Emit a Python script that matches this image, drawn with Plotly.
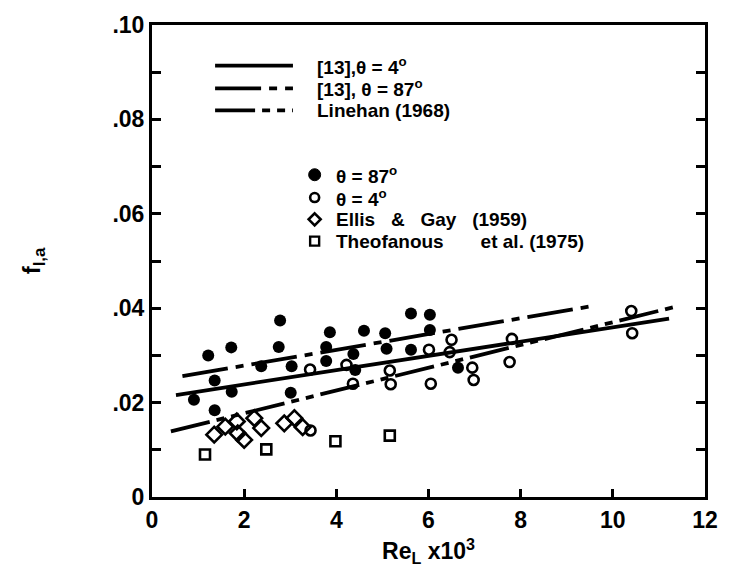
import plotly.graph_objects as go

# ---- data ----
filled_x = [0.91, 1.22, 1.36, 1.36, 1.72, 1.73, 2.37, 2.75, 2.78, 3.01, 3.03, 3.78, 3.78, 3.86,
            4.37, 4.41, 4.60, 5.06, 5.09, 5.62, 5.62, 6.03, 6.03, 6.64]
filled_y = [0.0206, 0.0300, 0.0247, 0.0184, 0.0317, 0.0223, 0.0277, 0.0318, 0.0374, 0.0221, 0.0277,
            0.0318, 0.0288, 0.0349, 0.0303, 0.0269, 0.0352, 0.0347, 0.0314, 0.0389, 0.0312, 0.0386,
            0.0354, 0.0274]
open_x = [3.43, 3.44, 4.22, 4.36, 5.16, 5.18, 6.01, 6.05, 6.46, 6.50, 6.95, 6.98, 7.76, 7.81, 10.40, 10.42]
open_y = [0.0270, 0.0141, 0.0280, 0.0240, 0.0268, 0.0239, 0.0312, 0.0240, 0.0307, 0.0333, 0.0274,
          0.0248, 0.0286, 0.0335, 0.0394, 0.0347]
ellis_x = [1.35, 1.59, 1.84, 1.86, 2.00, 2.22, 2.37, 2.87, 3.09, 3.27]
ellis_y = [0.0132, 0.0149, 0.0160, 0.0135, 0.0121, 0.0167, 0.0146, 0.0156, 0.0167, 0.0148]
theo_x = [1.15, 2.48, 3.98, 5.16]
theo_y = [0.0090, 0.0101, 0.0118, 0.0130]

ref4_x = [0.52, 11.22]
ref4_y = [0.0216, 0.0378]
ref87_x = [0.66, 9.58]
ref87_y = [0.0256, 0.0405]
linehan_x = [0.41, 11.44]
linehan_y = [0.0139, 0.0405]

x_ticks = [0, 2, 4, 6, 8, 10, 12]
y_tickvals = [0, 0.01, 0.02, 0.03, 0.04, 0.05, 0.06, 0.07, 0.08, 0.09, 0.10]
y_ticktext = ["0", "", ".02", "", ".04", "", ".06", "", ".08", "", ".10"]

NB = "\u00a0"
line_labels = ["[13],θ = 4<sup>o</sup>", "[13], θ = 87<sup>o</sup>", "Linehan (1968)"]
marker_labels = ["θ = 87<sup>o</sup>", "θ = 4<sup>o</sup>",
                 "Ellis" + NB * 3 + "&" + NB * 3 + "Gay" + NB * 3 + "(1959)",
                 "Theofanous" + NB * 7 + "et al. (1975)"]

FONT = "Liberation Sans"
W, H = 730, 586
ML, MR, MT, MB = 152, 17, 21, 89
LW = 3.8
DASH_87 = "46px,8px,8px,8px"
DASH_LIN = "40px,7px,8px,7px,8px,7px"

fig = go.Figure()

fig.add_trace(go.Scatter(x=ref4_x, y=ref4_y, mode="lines", showlegend=False,
                         line=dict(color="black", width=LW)))
fig.add_trace(go.Scatter(x=ref87_x, y=ref87_y, mode="lines", showlegend=False,
                         line=dict(color="black", width=LW, dash=DASH_87)))
fig.add_trace(go.Scatter(x=linehan_x, y=linehan_y, mode="lines", showlegend=False,
                         line=dict(color="black", width=LW, dash=DASH_LIN)))

fig.add_trace(go.Scatter(x=filled_x, y=filled_y, mode="markers", showlegend=False,
                         marker=dict(symbol="circle", size=12, color="black")))
fig.add_trace(go.Scatter(x=open_x, y=open_y, mode="markers", showlegend=False,
                         marker=dict(symbol="circle-open", size=10, color="black", line=dict(width=2.6))))
fig.add_trace(go.Scatter(x=ellis_x, y=ellis_y, mode="markers", showlegend=False,
                         marker=dict(symbol="diamond-open", size=12, color="black", line=dict(width=2.6))))
fig.add_trace(go.Scatter(x=theo_x, y=theo_y, mode="markers", showlegend=False,
                         marker=dict(symbol="square-open", size=10, color="black", line=dict(width=2.6))))

# ---- custom legends (paper coordinates derived from pixel layout) ----
pw = W - ML - MR
ph = H - MT - MB
def px(xp):
    return (xp - ML) / pw
def py(yp):
    return (H - MB - yp) / ph

LFONT = dict(family=FONT, size=19, color="black", weight="bold")

rows_y = [62, 85, 107]
dashes = ["solid", DASH_87, DASH_LIN]
for ry, d, lab in zip(rows_y, dashes, line_labels):
    fig.add_shape(type="line", xref="paper", yref="paper", x0=px(216), x1=px(295),
                  y0=py(ry), y1=py(ry), line=dict(color="black", width=LW, dash=d))
    fig.add_annotation(xref="paper", yref="paper", x=px(317), y=py(ry), text=lab,
                       showarrow=False, xanchor="left", yanchor="middle", font=LFONT)

mrows_y = [172, 195, 217, 239]
mx = px(317)
sym_shapes = [
    dict(type="circle", x0=-6, x1=6, y0=-6, y1=6, fillcolor="black", line=dict(color="black", width=1)),
    dict(type="circle", x0=-4.5, x1=4.5, y0=-4.5, y1=4.5, fillcolor="rgba(0,0,0,0)",
         line=dict(color="black", width=2.6)),
    dict(type="path", path="M0,6 L6,0 L0,-6 L-6,0 Z", fillcolor="rgba(0,0,0,0)",
         line=dict(color="black", width=2.6)),
    dict(type="rect", x0=-4.5, x1=4.5, y0=-4.5, y1=4.5, fillcolor="rgba(0,0,0,0)",
         line=dict(color="black", width=2.4)),
]
for ry, s, lab in zip(mrows_y, sym_shapes, marker_labels):
    fig.add_shape(xref="paper", yref="paper", xsizemode="pixel", ysizemode="pixel",
                  xanchor=mx, yanchor=py(ry), **s)
    fig.add_annotation(xref="paper", yref="paper", x=px(337), y=py(ry), text=lab,
                       showarrow=False, xanchor="left", yanchor="middle", font=LFONT)

fig.update_layout(
    width=W, height=H,
    margin=dict(l=ML, r=MR, t=MT, b=MB),
    paper_bgcolor="white", plot_bgcolor="white",
    font=dict(family=FONT, color="black", weight="bold"),
    showlegend=False,
    xaxis=dict(range=[0, 12], tickvals=x_ticks, ticks="inside", ticklen=8, tickwidth=2.5,
               tickcolor="black", showline=True, linecolor="black", linewidth=3, mirror=True,
               showgrid=False, zeroline=False,
               tickfont=dict(family=FONT, size=23, color="black", weight="bold"),
               title=dict(text="Re<sub>L</sub> x10<sup>3</sup>", standoff=12,
                          font=dict(family=FONT, size=23, color="black", weight="bold"))),
    yaxis=dict(range=[0, 0.10], tickvals=y_tickvals, ticktext=y_ticktext, ticks="inside",
               ticklen=9, tickwidth=2.5, tickcolor="black", showline=True, linecolor="black",
               linewidth=3, mirror="ticks", showgrid=False, zeroline=False,
               tickfont=dict(family=FONT, size=23, color="black", weight="bold"),
               title=dict(text="f<sub>l,a</sub>", standoff=66,
                          font=dict(family=FONT, size=24, color="black", weight="bold"))),
)

fig.write_html("out.html")
